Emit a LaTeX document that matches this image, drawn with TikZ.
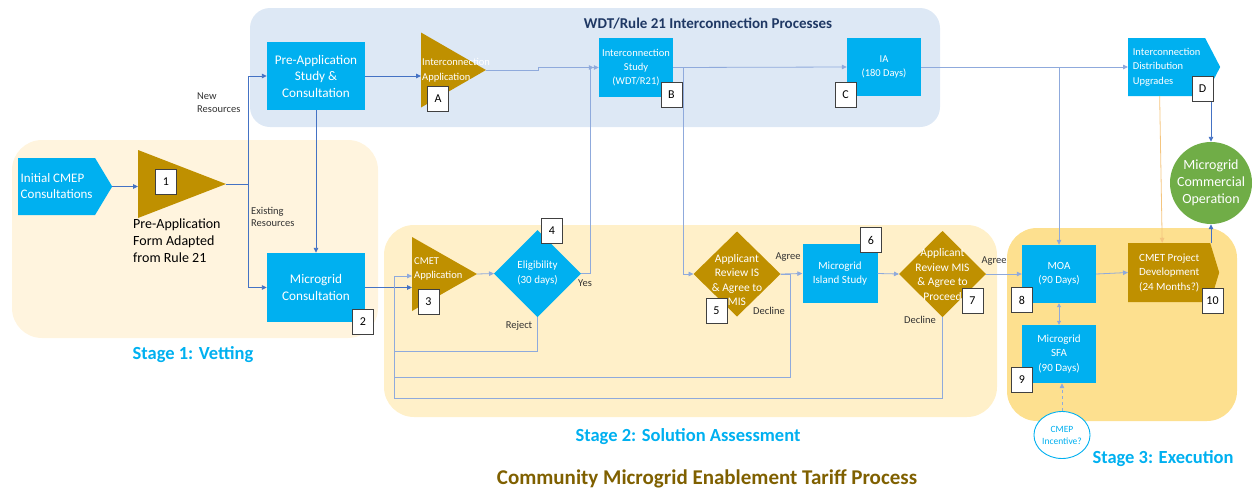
\documentclass[tikz,border=0pt]{standalone}
\usepackage{fontspec}
\setmainfont{Carlito}
\usetikzlibrary{shapes.geometric,shapes.symbols,arrows.meta,calc}

\definecolor{boxcyan}{HTML}{00B0F0}
\definecolor{boxgold}{HTML}{BF9000}
\definecolor{opgreen}{HTML}{70AD47}
\definecolor{wdtpanel}{HTML}{DDE8F5}
\definecolor{stageone}{HTML}{FFF4DE}
\definecolor{stagetwo}{HTML}{FFF0C9}
\definecolor{stagethree}{HTML}{FDE08F}
\definecolor{wdtnavy}{HTML}{1F3864}
\definecolor{titlebrown}{HTML}{7F6000}
\definecolor{flowblue}{HTML}{4472C4}
\definecolor{linkblue}{HTML}{8FAADC}
\definecolor{upgradeline}{HTML}{F4C57F}

\begin{document}
\begin{tikzpicture}[x=1pt,y=-1pt,
    proc/.style={rectangle,fill=boxcyan,text=white,align=center,inner sep=0pt,
      font=\fontsize{10.5}{14}\selectfont},
    gate/.style={isosceles triangle,isosceles triangle stretches,fill=boxgold,
      inner sep=0pt,outer sep=0pt,anchor=west},
    tab/.style={signal,signal to=east,inner sep=0pt,anchor=west,text=white},
    choice/.style={diamond,inner sep=0pt,outer sep=0pt},
    inside/.style={text=white,align=center,inner sep=0pt,font=\fontsize{10.5}{14.5}\selectfont},
    numbox/.style={rectangle,draw=black!75,fill=white,line width=0.8pt,
      minimum width=21,minimum height=25,inner sep=0pt,font=\fontsize{12}{12}\selectfont},
    flow/.style={draw=flowblue,line width=0.9pt,-{Triangle[length=5pt,width=4.5pt]}},
    thinflow/.style={draw=linkblue,line width=0.8pt,-{Triangle[length=5pt,width=4.5pt]}},
    link/.style={draw=linkblue,line width=0.8pt},
    tag/.style={font=\fontsize{10.5}{12.5}\selectfont,text=black!80,align=left,inner sep=0pt},
    stage/.style={font=\bfseries\fontsize{18.5}{20}\selectfont,text=boxcyan}]

  \useasboundingbox (0,0) rectangle (1254,488);

  %==================== Panels ====================
  \fill[wdtpanel,rounded corners=20pt] (250,8) rectangle (940,127);
  \fill[stageone,rounded corners=30pt] (12,140) rectangle (378,338);
  \fill[stagetwo,rounded corners=30pt] (384,225) rectangle (997,417);
  \fill[stagethree,rounded corners=30pt] (1007,228) rectangle (1237,421);

  \node[font=\bfseries\fontsize{15}{17}\selectfont,text=wdtnavy] (wdttitle) at (708,24)
    {WDT/Rule 21 Interconnection Processes};

  %==================== Stage 1: vetting ====================
  \node[tab,signal pointer angle=118,fill=boxcyan,minimum width=94,minimum height=57,
    align=left,font=\fontsize{13}{16}\selectfont] (cmep) at (18,186.5) {Initial CMEP\\Consultations};
  \node[gate,minimum width=68,minimum height=88] (form) at (138,184) {};
  \node[font=\fontsize{14}{17}\selectfont,align=left,anchor=north west,inner sep=0pt]
    (formtxt) at (133,219) {Pre-Application\\Form Adapted\\from Rule 21};
  \node[proc,minimum width=98,minimum height=68,font=\fontsize{13.2}{16.5}\selectfont]
    (prestudy) at (316,76) {Pre-Application\\Study \&\\Consultation};
  \node[proc,minimum width=98,minimum height=69,font=\fontsize{13.2}{16.5}\selectfont]
    (mgcons) at (316,287.5) {Microgrid\\Consultation};

  %==================== WDT/R21 interconnection ====================
  \node[gate,minimum width=75,minimum height=65] (icapp) at (421,70) {};
  \node[inside,align=left,anchor=west] (icapptxt) at (422,70) {Interconnection\\Application};
  \node[proc,minimum width=74,minimum height=59] (icstudy) at (636,67.5)
    {Interconnection\\Study\\(WDT/R21)};
  \node[proc,minimum width=74,minimum height=58] (ia) at (884,67) {IA\\(180 Days)};
  \node[tab,signal pointer angle=125,fill=boxcyan,minimum width=92,minimum height=58,
    align=left,font=\fontsize{10.5}{14.5}\selectfont] (idu) at (1128,67)
    {Interconnection\\Distribution\\Upgrades};
  \node[circle,fill=opgreen,text=white,minimum size=82,inner sep=0pt,align=center,
    font=\fontsize{14}{17}\selectfont] (mgop) at (1211,183) {Microgrid\\Commercial\\Operation};

  %==================== Stage 2: solution assessment ====================
  \node[gate,minimum width=74,minimum height=65] (cmetapp) at (412,274) {};
  \node[inside,align=left,anchor=west] (cmetapptxt) at (414,269) {CMET\\Application};
  \node[choice,fill=boxcyan,minimum width=87,minimum height=87] (elig) at (537.5,273.5) {};
  \node[inside,font=\fontsize{11}{15}\selectfont] (eligtxt) at (elig.center) {Eligibility\\(30 days)};
  \node[choice,fill=boxgold,minimum width=87,minimum height=85] (revis) at (737,274) {};
  \node[inside,font=\fontsize{11.5}{14.5}\selectfont] (revistxt) at (737,280)
    {Applicant\\Review IS\\\& Agree to\\MIS};
  \node[proc,minimum width=75,minimum height=59,font=\fontsize{11}{14.5}\selectfont]
    (island) at (840,273.5) {Microgrid\\Island Study};
  \node[choice,fill=boxgold,minimum width=87,minimum height=86] (revmis) at (942.5,274) {};
  \node[inside,font=\fontsize{11.5}{14.5}\selectfont] (revmistxt) at (942.5,274.5)
    {Applicant\\Review MIS\\\& Agree to\\Proceed};

  %==================== Stage 3: execution ====================
  \node[proc,minimum width=74,minimum height=58,font=\fontsize{11}{14.5}\selectfont]
    (moa) at (1059,274) {MOA\\(90 Days)};
  \node[proc,minimum width=74,minimum height=58,font=\fontsize{11}{14.5}\selectfont]
    (sfa) at (1059,354) {Microgrid\\SFA\\(90 Days)};
  \node[tab,signal pointer angle=146,fill=boxgold,minimum width=91,minimum height=59,
    align=center,font=\fontsize{11}{14.5}\selectfont] (pdev) at (1128,272.5)
    {CMET Project\\Development\\(24 Months?)};
  \node[ellipse,draw=boxcyan,fill=white,line width=0.9pt,minimum width=53,minimum height=47,
    inner sep=0pt,align=center,text=boxcyan,font=\fontsize{9.5}{12}\selectfont]
    (incent) at (1062,435) {CMEP\\Incentive?};

  %==================== Connectors ====================
  \draw[flow] (cmep.east) -- (cmep.east -| form.west);
  \coordinate (fork) at (248,184);
  \draw[flowblue,line width=0.9pt] (form.apex) -- (fork);
  \draw[flow] (fork) |- (prestudy.west);
  \draw[flow] (fork) |- (mgcons.west);
  \draw[flow] (prestudy.east) -- (prestudy.east -| icapp.west);
  \draw[flow] (prestudy.south) -- (mgcons.north);
  \draw[flow] (mgcons.east) -- (mgcons.east -| cmetapp.west);

  % interconnection chain
  \draw[thinflow] (icapp.apex) -- ++(52,0) |- (icstudy.west);
  \draw[thinflow] (elig.east) -- ++(9,0) |- ([xshift=-5pt]icstudy.west);
  \coordinate (bfork) at (683,67.5);
  \draw[thinflow] (icstudy.east) -- (ia.west);
  \draw[thinflow] (bfork) |- (revis.west);
  \draw[thinflow] (ia.east) -- (idu.west);
  \coordinate (cfork) at (1059,67);
  \draw[thinflow] (cfork) -- (moa.north);
  \draw[flow] (mgop.north |- idu.south) -- (mgop.north);
  \draw[draw=upgradeline,line width=0.8pt,-{Triangle[length=5pt,width=4.5pt]}]
    ([xshift=-7pt]idu.south) -- ([xshift=-7pt]pdev.north);
  \draw[flow] (mgop.south |- pdev.north) -- (mgop.south);

  % assessment flow
  \draw[thinflow] (cmetapp.apex) -- (elig.west);
  \draw[thinflow] (revis.east) -- (island.west);
  \draw[thinflow] (island.east) -- (revmis.west);
  \draw[thinflow] (revmis.east) -- (moa.west);
  \draw[thinflow] (moa.east) -- (pdev.west);
  \draw[thinflow,{Triangle[length=4pt,width=4pt]}-{Triangle[length=4pt,width=4pt]}]
    (moa.south) -- (sfa.north);
  \draw[thinflow,dashed] (incent.north) -- (incent.north |- sfa.south);

  % return paths to the CMET application
  \coordinate (rejectrow) at (394,351);
  \coordinate (declinerow) at (394,377);
  \coordinate (backrow) at (394,398);
  \draw[link] (elig.south) |- (rejectrow);
  \draw[link] (revis.east) -- ++(10,0) |- (declinerow);
  \draw[link] (revmis.south) |- (backrow);
  \draw[thinflow] (backrow) |- ([yshift=-2pt]cmetapp.west);

  % branch labels
  \node[tag,anchor=north west] (newres) at (197,93) {New\\Resources};
  \node[tag,anchor=north west] (oldres) at (251,207) {Existing\\Resources};
  \node[tag] (yes) at (585,283) {Yes};
  \node[tag] (reject) at (519,326) {Reject};
  \node[tag] (agreeis) at (788,257) {Agree};
  \node[tag] (declineis) at (769,311) {Decline};
  \node[tag] (agreemis) at (994,261) {Agree};
  \node[tag] (declinemis) at (920,320) {Decline};

  %==================== Step numbers ====================
  \foreach \n/\px/\py in {1/166/182, 2/363/322, 3/428.5/301.5, 4/552/230.5,
      5/716.5/310.5, 6/871/240, 7/972.5/300.5, 8/1022/300, 9/1022/380,
      10/1212.5/300.5, A/438/98.5, B/671.5/95, C/845.5/94.5, D/1202.5/89} {
    \node[numbox] (n\n) at (\px,\py) {\n};
  }

  %==================== Stage titles ====================
  \node[stage] (stageone) at (193,355) {Stage 1: Vetting};
  \node[stage] (stagetwo) at (688,437) {Stage 2: Solution Assessment};
  \node[stage] (stagethree) at (1163,459) {Stage 3: Execution};
  \node[font=\bfseries\fontsize{21}{22}\selectfont,text=titlebrown] (title) at (707,479)
    {Community Microgrid Enablement Tariff Process};

\end{tikzpicture}
\end{document}
